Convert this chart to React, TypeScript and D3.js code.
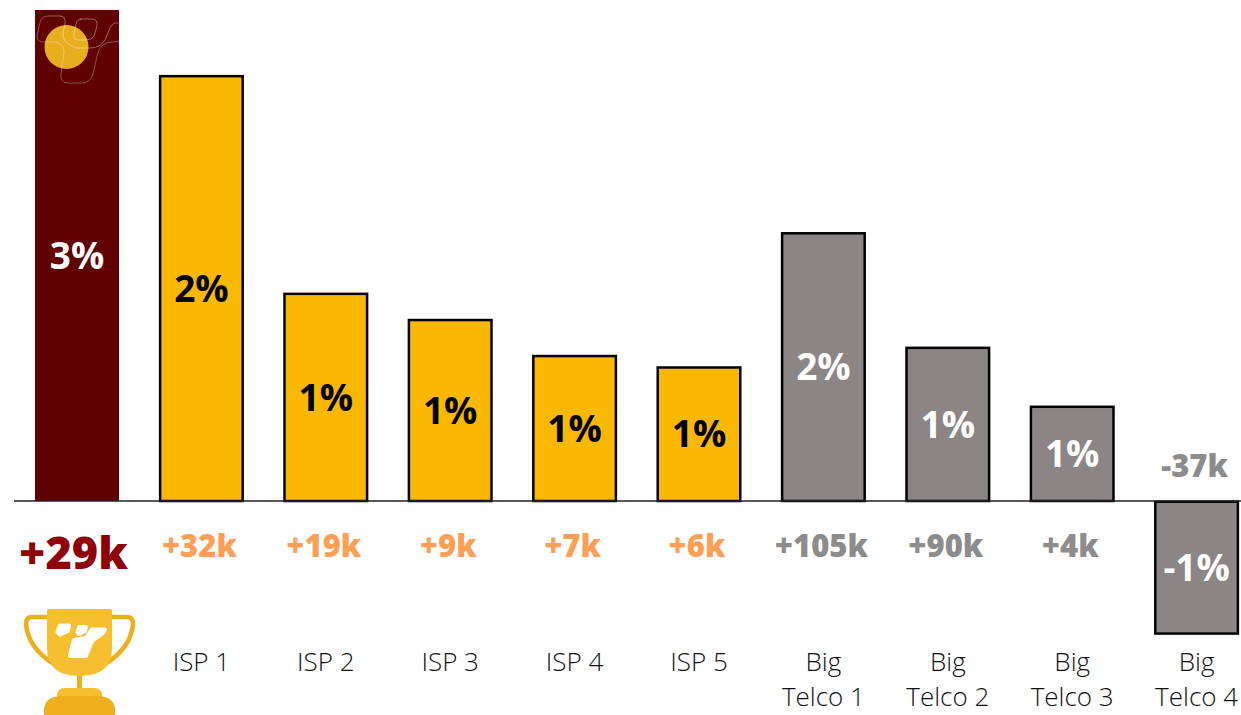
import React from "react";
import * as d3 from "d3";

const categories = ["Winner", "ISP 1", "ISP 2", "ISP 3", "ISP 4", "ISP 5", "Big|Telco 1", "Big|Telco 2", "Big|Telco 3", "Big|Telco 4"];
const shareValues = [3.0, 2.6, 1.27, 1.11, 0.89, 0.82, 1.64, 0.94, 0.58, -0.81];
const shareLabels = ["3%", "2%", "1%", "1%", "1%", "1%", "2%", "1%", "1%", "-1%"];
const deltaLabels = ["+29k", "+32k", "+19k", "+9k", "+7k", "+6k", "+105k", "+90k", "+4k", "-37k"];
const groups = ["hero", "isp", "isp", "isp", "isp", "isp", "telco", "telco", "telco", "telco"];

const fills: Record<string, string> = { hero: "#600000", isp: "#FBB800", telco: "#8C8585" };
const deltaColors: Record<string, string> = { hero: "#8F0009", isp: "#FF9F55", telco: "#8C8C8C" };
const shareColors: Record<string, string> = { hero: "#FFFFFF", isp: "#000000", telco: "#FFFFFF" };
const FONT = "'Open Sans', 'Noto Sans', sans-serif";

const x = d3.scaleBand<string>().domain(categories).range([14.8, 1258.8]).paddingInner(0.325).paddingOuter(0.1625);
const y = d3.scaleLinear().domain([0, 3]).range([501, 10]);

export default function App() {
  return (
    <svg width={1241} height={715} style={{ position: "absolute", left: 0, top: 0, display: "block", background: "#fff" }} fontFamily={FONT}>
      {categories.map((c, i) => {
        const v = shareValues[i];
        const g = groups[i];
        const top = Math.min(y(v), y(0));
        const h = Math.abs(y(v) - y(0));
        const bx = x(c)!;
        const cx = bx + x.bandwidth() / 2;
        const below = v < 0;
        const inset = g === "hero" ? 0 : 0.7;
        return (
          <g key={c}>
            <rect x={bx + inset} y={top + inset} width={x.bandwidth() - 2 * inset} height={h - inset} fill={fills[g]}
              stroke={g === "hero" ? "none" : "#000"} strokeWidth={2.5} />
            <text x={cx} y={top + h / 2 - 1} textAnchor="middle" dominantBaseline="central"
              fontWeight={700} fontSize={37} fill={shareColors[g]}>{shareLabels[i]}</text>
            <text x={cx - (g === "hero" ? 3.5 : 2)} y={below ? 464.5 : g === "hero" ? 551 : 544.5} textAnchor="middle" dominantBaseline="central"
              fontWeight={800} fontSize={g === "hero" ? 45 : 31} fill={deltaColors[g]}>{deltaLabels[i]}</text>
            {g !== "hero" && c.split("|").map((line, k, all) => (
              <text key={k} x={cx} y={all.length === 1 ? 661 : 661 + k * 35} textAnchor="middle" dominantBaseline="central"
                fontWeight={300} fontSize={26} fill="#111">{line}</text>
            ))}
          </g>
        );
      })}
      <line x1={14} x2={1241} y1={y(0)} y2={y(0)} stroke="#222" strokeWidth={1.5} />

      {/* badge on the leading bar */}
      <circle cx={66.5} cy={47} r={22} fill="#E9AE1F" />
      <g fill="none" stroke="#fff" strokeOpacity={0.38} strokeWidth={1}>
        <path d="M48 16 H60 Q66 16 65 24 L63 33 Q62 42 72 46 L76 48 H90 Q100 48 105 40 L110 28 Q113 22 118 23" />
        <path d="M48 16 Q41 16 40 23 L37 36 Q37 42 43 42 H54 Q63 42 64 52 L61 74 Q60 83 68 83 H82 Q90 83 93 74 L97 56 Q100 42 112 42 Q124 42 128 34" strokeOpacity={0.3} />
        <path d="M80 19 H92 Q98 19 97 26 L94 36 Q92 40 86 40 H78 Q73 40 74 34 L76 24 Q77 19 82 19" />
      </g>

      {/* trophy */}
      <g>
        <path d="M47 617 H32 Q26 617 26 624 Q28 648 54 664" fill="none" stroke="#EFAE1C" strokeWidth={4.5} strokeLinecap="round" />
        <path d="M112 617 H127 Q133 617 133 624 Q131 648 105 664" fill="none" stroke="#EFAE1C" strokeWidth={4.5} strokeLinecap="round" />
        <rect x={77} y={670} width={5} height={24} fill="#EFAE1C" />
        <path d="M47 611 Q47 609 49 609 H110 Q112 609 112 611 V648 Q112 676 79.5 676 Q47 676 47 648 Z" fill="#F5BF30" />
        <path d="M57 696 Q57 688 65 688 H94 Q102 688 102 696 V700 H57 Z" fill="#F5BF30" />
        <path d="M44 715 V708 Q46 696 62 696 H97 Q113 696 115 708 V715 Z" fill="#EFAE1C" />
        <g fill="#fff" stroke="#fff" strokeWidth={4} strokeLinejoin="round">
          <path d="M60 625.5 H69 L68 631 L60 634.5 L57.5 632 Z" />
          <path d="M79 627 H86 L85 631 L79 634 L77.5 632 Z" />
          <path d="M92 629.5 H105 L103 633 L92 641 L86 656 H70 L72 647 L74 640 L86 638 Z" />
        </g>
      </g>
    </svg>
  );
}
